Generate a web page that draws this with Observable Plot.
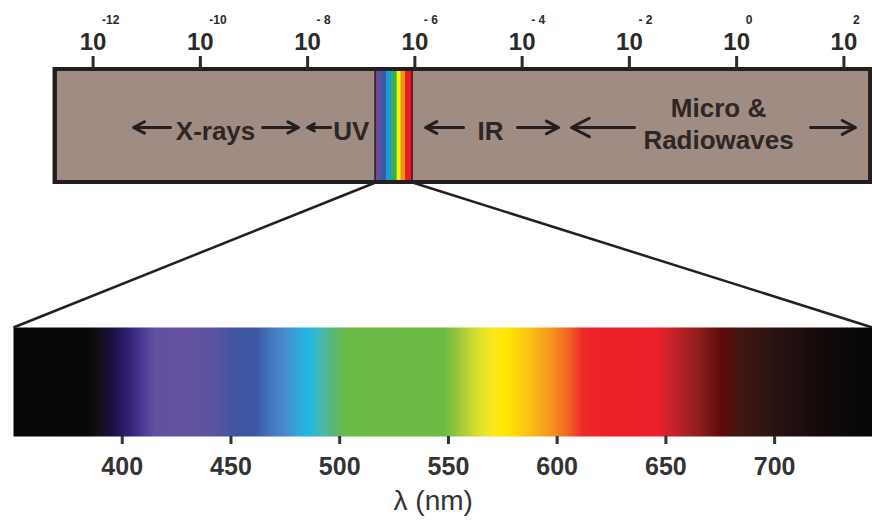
<!DOCTYPE html>
<html><head><meta charset="utf-8">
<script src="https://cdn.jsdelivr.net/npm/d3@7"></script>
<script src="https://cdn.jsdelivr.net/npm/@observablehq/plot@0.6"></script>
<style>
html,body{margin:0;padding:0;background:#fff;}
#chart{position:relative;width:872px;height:526px;overflow:hidden;}
#chart svg{position:absolute;left:0;top:0;}
</style></head><body><div id="chart"></div>
<script>
// ---- Top: electromagnetic spectrum, x = log10(wavelength in m)
const topTicks = [-12, -10, -8, -6, -4, -2, 0, 2];
const topTickBase = "10";
const topTickExponents = ["-12", "-10", "- 8", "- 6", "- 4", "- 2", "0", "2"];
const barExtent = [-12.706, 2.502];
const bandNames = ["violet", "blue", "cyan", "green", "yellow", "orange", "red"];
const bandEdges = [-6.733, -6.621, -6.528, -6.435, -6.33, -6.255, -6.174, -6.043];
const bandColors = ["#6a4b9c", "#2d5fae", "#1c9bd7", "#3aae4c", "#fff200", "#f7941d", "#ed1c24"];
const regionLabels = ["X-rays", "UV", "IR", "Micro &\nRadiowaves"];
const regionLabelX = [-9.717, -7.185, -4.589, -0.338];
const regionLabelY = [0.53, 0.53, 0.535, 0.47];
const arrowTail = [-10.556, -8.840, -7.572, -5.092, -4.086, -1.904, 1.378];
const arrowHead = [-11.246, -8.169, -8.001, -5.801, -3.321, -3.079, 2.217];
const arrowY = 0.513;

// ---- Bottom: visible spectrum, x = wavelength in nm
const spectrumExtent = [350, 745];
const nmTicks = [400, 450, 500, 550, 600, 650, 700];
const stopNm = [350, 383, 389, 395, 402, 409, 415, 428, 442, 452, 462, 468, 474, 481, 486, 492, 498, 503, 548, 554, 563, 571, 577, 586, 597, 605, 612, 620, 646, 652, 665, 676, 684, 700, 722, 738, 745];
const stopColors = ["#050606", "#070707", "#141016", "#1a1040", "#2e1e6e", "#4c3896", "#6050a0", "#6552a0", "#5c52a0", "#3f55a0", "#3c57a6", "#4477bf", "#4a88cc", "#30aadc", "#22b8e6", "#4ab8aa", "#5cb86c", "#6abb46", "#6cbb45", "#98c53c", "#d6df2c", "#fde81c", "#ffe600", "#fcc614", "#f7961e", "#f26522", "#ec2a28", "#ee2028", "#ec2028", "#cc2429", "#8e1e1e", "#5e0a0a", "#421610", "#2a1212", "#140a0a", "#080808", "#060606"];
const axisLabel = "λ (nm)";
const axisLabelX = 543;

// ---- build rows
const ticksTop = topTicks.map((e, i) => ({e, base: topTickBase, exp: topTickExponents[i]}));
const stripes = bandColors.map((c, i) => ({name: bandNames[i], x1: bandEdges[i], x2: bandEdges[i + 1], color: c}));
const band = [{x1: bandEdges[0], x2: bandEdges[bandEdges.length - 1]}];
const bar = [{x1: barExtent[0], x2: barExtent[1]}];
const labels = regionLabels.map((t, i) => ({text: t, x: regionLabelX[i], y: regionLabelY[i]}));
const arrows = arrowTail.map((t, i) => ({tail: t, head: arrowHead[i]}));

const W = 872, H = 526;
const ink = "#231f20";
const font = "'Liberation Sans', Arial, Helvetica, sans-serif";

const topPlot = Plot.plot({
  width: W, height: H,
  marginLeft: 92.6, marginRight: 28.6, marginTop: 69, marginBottom: 344,
  style: {background: "transparent", fontFamily: font, color: "#2a2a2a", overflow: "visible"},
  x: {domain: [-12, 2], axis: null},
  y: {domain: [0, 1], reverse: true, axis: null},
  color: {type: "identity"},
  marks: [
    Plot.rect(bar, {x1: "x1", x2: "x2", y1: 0, y2: 1, fill: "#a08c82", stroke: ink, strokeWidth: 4}),
    Plot.rect(stripes, {x1: "x1", x2: "x2", y1: 0, y2: 1, fill: "color"}),
    Plot.rect(band, {x1: "x1", x2: "x2", y1: 0, y2: 1, fill: "none", stroke: ink, strokeWidth: 1.5}),
    Plot.rect(bar, {x1: "x1", x2: "x2", y1: 0, y2: 1, fill: "none", stroke: ink, strokeWidth: 4}),
    Plot.axisX(topTicks, {anchor: "top", tickSize: 14, tickPadding: 6, strokeWidth: 3, tickFormat: () => topTickBase, fontSize: 24, fontWeight: "bold", label: null}),
    Plot.text(ticksTop, {x: "e", text: "exp", frameAnchor: "top", lineAnchor: "bottom", dy: -45.5, dx: 9, textAnchor: "start", fontSize: 12, fontWeight: "bold"}),
    Plot.arrow(arrows, {x1: "tail", x2: "head", y1: arrowY, y2: arrowY, stroke: ink, strokeWidth: 3, headLength: 10, headAngle: 55}),
    Plot.text(labels, {x: "x", y: "y", text: "text", fontSize: 26, fontWeight: "bold", fill: "#2d2624", lineHeight: 1.25})
  ]
});

function bottomPlot(connectors) {
  return Plot.plot({
    width: W, height: H,
    marginLeft: 13, marginRight: 0, marginTop: 327, marginBottom: 90,
    style: {background: "transparent", fontFamily: font, color: "#333333", overflow: "visible"},
    x: {domain: spectrumExtent, axis: null},
    y: {domain: [0, 1], reverse: true, axis: null},
    color: {type: "linear", domain: stopNm, range: stopColors, interpolate: "rgb"},
    marks: [
      Plot.raster({x1: spectrumExtent[0], x2: spectrumExtent[1], y1: 0, y2: 1, width: 860, height: 1, fill: (x, y) => x, imageRendering: "auto"}),
      Plot.link(connectors, {x1: "x1", y1: "y1", x2: "x2", y2: "y2", stroke: ink, strokeWidth: 2.5}),
      Plot.axisX(nmTicks, {anchor: "bottom", tickSize: 8, tickPadding: 13, strokeWidth: 3, fontSize: 25, fontWeight: "bold", label: null}),
      Plot.text([axisLabel], {x: () => axisLabelX, frameAnchor: "bottom", dy: 73, text: d => d, fontSize: 28, fill: "#333333"})
    ]
  });
}

const probe = bottomPlot([]);
const bx = probe.scale("x"), by = probe.scale("y");
const tx = topPlot.scale("x"), ty = topPlot.scale("y");
const connectors = [
  {x1: bx.invert(tx.apply(bandEdges[0])), y1: by.invert(ty.apply(1)), x2: spectrumExtent[0], y2: 0},
  {x1: bx.invert(tx.apply(bandEdges[bandEdges.length - 1])), y1: by.invert(ty.apply(1)), x2: spectrumExtent[1], y2: 0}
];
const bottom = bottomPlot(connectors);
const chart = document.getElementById("chart");
chart.append(bottom, topPlot);
</script></body></html>
